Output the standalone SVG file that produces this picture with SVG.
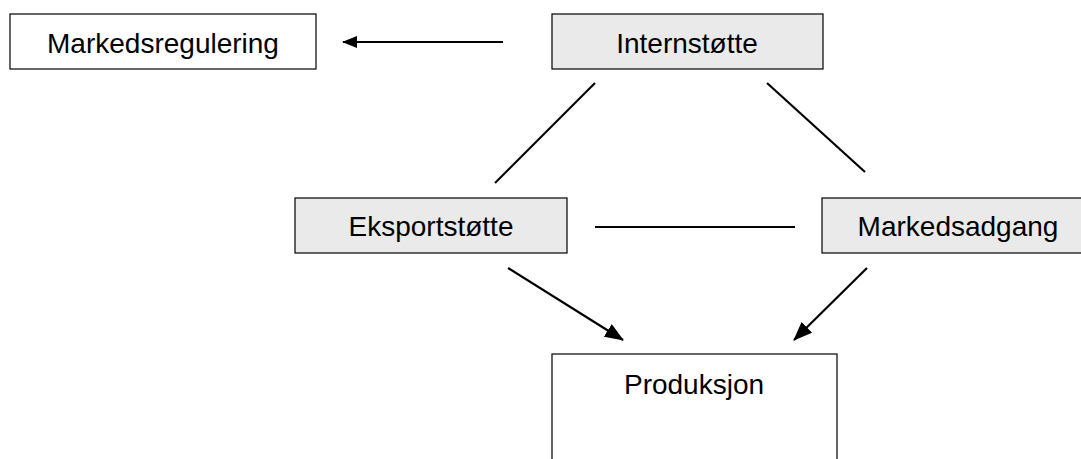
<svg xmlns="http://www.w3.org/2000/svg" width="1081" height="459" viewBox="0 0 1081 459">
<style>
.box{stroke:#000;stroke-width:1.2}
.w{fill:#fff}
.g{fill:#eaeaea}
.t{font-family:"Liberation Sans",Arial,sans-serif;font-size:28px;fill:#000;text-anchor:middle}
.c{stroke:#000;stroke-width:2.2;fill:none}
</style>
<defs>
<marker id="ah" markerWidth="15" markerHeight="12" refX="14" refY="6" orient="auto" markerUnits="userSpaceOnUse">
<path d="M0,0 L15,6 L0,12 Z" fill="#000"/>
</marker>
<marker id="ahb" markerWidth="19" markerHeight="15" refX="18" refY="7.5" orient="auto" markerUnits="userSpaceOnUse">
<path d="M0,0 L19,7.5 L0,15 Z" fill="#000"/>
</marker>
</defs>
<rect width="1081" height="459" fill="#fff"/>
<g id="connectors">
<line class="c" x1="503" y1="42" x2="343" y2="42" marker-end="url(#ah)"/>
<line class="c" x1="595" y1="83" x2="495" y2="183"/>
<line class="c" x1="767" y1="83" x2="865" y2="172"/>
<line class="c" x1="595" y1="227" x2="795" y2="227"/>
<line class="c" x1="508" y1="268" x2="623" y2="340" marker-end="url(#ahb)"/>
<line class="c" x1="867" y1="268" x2="794" y2="340" marker-end="url(#ahb)"/>
</g>
<g id="markedsregulering">
<rect class="box w" x="10" y="14" width="306" height="55"/>
<text class="t" x="163" y="53">Markedsregulering</text>
</g>
<g id="internstotte">
<rect class="box g" x="552" y="14" width="271" height="55"/>
<text class="t" x="687" y="53">Internstøtte</text>
</g>
<g id="eksportstotte">
<rect class="box g" x="295" y="198" width="272" height="55"/>
<text class="t" x="431" y="236">Eksportstøtte</text>
</g>
<g id="markedsadgang">
<rect class="box g" x="822" y="198" width="272" height="55"/>
<text class="t" x="958" y="236">Markedsadgang</text>
</g>
<g id="produksjon">
<rect class="box w" x="552" y="354" width="285" height="120"/>
<text class="t" x="694" y="394">Produksjon</text>
</g>
</svg>
